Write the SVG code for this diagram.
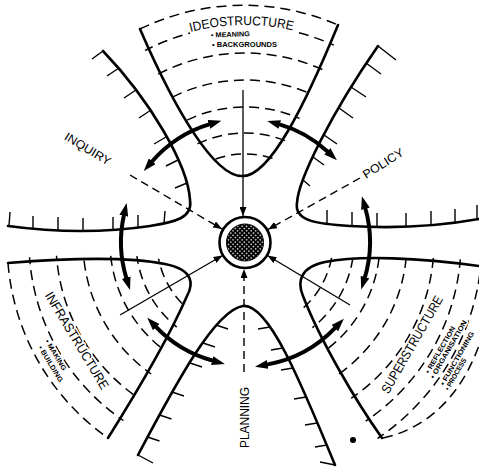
<svg xmlns="http://www.w3.org/2000/svg" width="479" height="468" viewBox="0 0 479 468">
<style>
.c{fill:none;stroke:#000;stroke-width:2.6;stroke-linecap:round;stroke-linejoin:round}
.t{fill:none;stroke:#000;stroke-width:1.4}
.d{fill:none;stroke:#000;stroke-width:1.5;stroke-dasharray:10 6}
.rl{fill:none;stroke:#000;stroke-width:1.3}
.rd{fill:none;stroke:#000;stroke-width:1.4;stroke-dasharray:8 5}
.ta{fill:none;stroke:#000;stroke-width:4}
.lbl{font-family:"Liberation Sans",Arial,Helvetica,sans-serif;fill:#000}
.big{font-size:13px}
.sm{font-size:7px;font-weight:bold}
.halo{paint-order:stroke;stroke:#fff;stroke-width:3px;stroke-linejoin:round}
</style>
<defs>
<marker id="ah" viewBox="0 0 9 7" refX="9" refY="3.5" markerWidth="9" markerHeight="7" markerUnits="userSpaceOnUse" orient="auto"><path d="M0,0L9,3.5L0,7z"/></marker>
<marker id="bh" viewBox="0 0 13 9" refX="1" refY="4.5" markerWidth="13" markerHeight="9" markerUnits="userSpaceOnUse" orient="auto-start-reverse"><path d="M0,0L13,4.5L0,9z"/></marker>
<pattern id="ht" width="3.2" height="3.2" patternUnits="userSpaceOnUse" patternTransform="rotate(45)"><rect width="3.2" height="3.2" fill="#000"/><circle cx="1.6" cy="1.6" r="0.75" fill="#fff"/></pattern>
<mask id="mI" maskUnits="userSpaceOnUse" x="0" y="0" width="479" height="468"><path d="M140,29 C175,110 215,178 243,176 C270,176 305,105 338,25 A237,237 0 0 0 140,29 Z" fill="#fff" stroke="#fff" stroke-width="8"/></mask>
<mask id="mF" maskUnits="userSpaceOnUse" x="0" y="0" width="479" height="468"><path d="M8,263 C70,258 130,257 165,264 C195,270 193,285 187,296 C170,335 135,395 108,438 A237,237 0 0 1 8,263 Z" fill="#fff" stroke="#fff" stroke-width="8"/></mask>
<mask id="mS" maskUnits="userSpaceOnUse" x="0" y="0" width="479" height="468"><path d="M490,267 C420,258 360,255 325,262 C300,267 297,282 303,296 C320,340 355,400 382,438 C430,428 478,388 492,292 Z" fill="#fff" stroke="#fff" stroke-width="8"/></mask>
<path id="ideoArc" d="M91.6,88.6 A217,217 0 0 1 398.4,88.6"/>
</defs>
<rect width="479" height="468" fill="#fff"/>

<g id="ideostructure">
<g mask="url(#mI)">
<circle class="d" cx="245" cy="242" r="216"/><circle class="d" cx="245" cy="242" r="189"/><circle class="d" cx="245" cy="242" r="162"/><circle class="d" cx="245" cy="242" r="135"/><circle class="d" cx="245" cy="242" r="109"/><circle class="d" cx="245" cy="242" r="88"/>
</g>
<path class="d" d="M140,29 A237,237 0 0 1 338,25"/>
<path class="c" d="M140,29 C175,110 215,178 243,176 C270,176 305,105 338,25"/>
<rect x="190" y="12.5" width="108" height="38" fill="#fff"/>
<text class="lbl big"><textPath href="#ideoArc" startOffset="49%" text-anchor="middle" textLength="103" lengthAdjust="spacingAndGlyphs">IDEOSTRUCTURE</textPath></text>
<text class="lbl sm" x="211" y="37.5" textLength="39" lengthAdjust="spacingAndGlyphs" transform="rotate(-2 211 37.5)">• MEANING</text>
<text class="lbl sm" x="212" y="47" textLength="65" lengthAdjust="spacingAndGlyphs">• BACKGROUNDS</text>
</g>

<g id="policy">
<path class="c" d="M378,46 C332,112 298,180 297,203 C294,222 320,224 350,226 C400,229 440,226 479,219"/>
<path class="t" d="M378,46L396,60 M366,63L381,74 M351,87L366,97 M339,108L353,118 M324,135L337,144 M313,157L324,165 M303,180L310,186 M327,224L327,210 M352,226L352,212 M377,227L377,213 M406,227L406,213 M431,225L431,211 M455,223L455,209 M477,219L477,205"/>
<text class="lbl big" transform="translate(383,163) rotate(-32)" x="0" y="4.5" text-anchor="middle" textLength="46" lengthAdjust="spacingAndGlyphs" style="font-size:12px">POLICY</text>
</g>

<g id="superstructure">
<g mask="url(#mS)">
<circle class="d" cx="245" cy="242" r="237"/><circle class="d" cx="245" cy="242" r="216"/><circle class="d" cx="245" cy="242" r="189"/><circle class="d" cx="245" cy="242" r="162"/><circle class="d" cx="245" cy="242" r="135"/><circle class="d" cx="245" cy="242" r="109"/><circle class="d" cx="245" cy="242" r="88"/>
</g>
<path class="d" d="M383,438 C430,428 478,388 492,292"/>
<path class="c" d="M479,266 C420,258 360,255 325,262 C300,267 297,282 303,296 C320,340 355,400 382,438"/>
<g transform="translate(412,344.5) rotate(-60)">
<text class="lbl big halo" x="0" y="4.5" text-anchor="middle" textLength="110" lengthAdjust="spacingAndGlyphs">SUPERSTRUCTURE</text>
<text class="lbl sm halo" x="-17" y="29.5" textLength="53" lengthAdjust="spacingAndGlyphs">• REFLECTION</text>
<text class="lbl sm halo" x="-19" y="36.5" textLength="66" lengthAdjust="spacingAndGlyphs">• ORGANISATION</text>
<text class="lbl sm halo" x="-20" y="48.5" textLength="61" lengthAdjust="spacingAndGlyphs">• FUNCTIONING</text>
<text class="lbl sm halo" x="-22" y="55" textLength="36" lengthAdjust="spacingAndGlyphs">• PROCESS</text>
</g>
</g>

<g id="planning">
<path class="c" d="M138,455 C175,385 215,310 243,306 C268,303 300,380 335,465"/>
<path class="t" d="M138,455L153,463 M216,325L228,329 M203,343L215,347 M190,363L202,367 M172,392L184,396 M159.5,415L171.5,419 M147.5,437L159.5,441 M335,465L320,462 M270,327L258,329 M283,348L271,350 M293,368L281,370 M306,397L294,399 M317,423L305,425 M327,445L315,447"/>
<text class="lbl big" transform="translate(244,417.5) rotate(-90)" x="0" y="4.5" text-anchor="middle" textLength="61" lengthAdjust="spacingAndGlyphs" style="font-size:12.5px">PLANNING</text>
<circle cx="353" cy="440" r="3" fill="#000"/>
</g>

<g id="infrastructure">
<g mask="url(#mF)">
<circle class="d" cx="245" cy="242" r="216"/><circle class="d" cx="245" cy="242" r="189"/><circle class="d" cx="245" cy="242" r="162"/><circle class="d" cx="245" cy="242" r="135"/><circle class="d" cx="245" cy="242" r="109"/><circle class="d" cx="245" cy="242" r="88"/>
</g>
<path class="d" d="M8,263 A237,237 0 0 0 108,438"/>
<path class="c" d="M8,263 C70,258 130,257 165,264 C195,270 193,285 187,296 C170,335 135,395 108,438"/>
<g transform="translate(77,340.5) rotate(59)">
<text class="lbl big halo" x="0" y="4.5" text-anchor="middle" textLength="111" lengthAdjust="spacingAndGlyphs">INFRASTRUCTURE</text>
<text class="lbl sm halo" x="-16" y="28" textLength="35" lengthAdjust="spacingAndGlyphs">• MAKING</text>
<text class="lbl sm halo" x="-14" y="37" textLength="41" lengthAdjust="spacingAndGlyphs">• BUILDING</text>
</g>
</g>

<g id="inquiry">
<path class="c" d="M103,51 C150,100 188,165 190,200 C193,218 175,222 150,226 C110,232 60,233 8,226"/>
<path class="t" d="M103,51L92,59 M119,68L107,76 M136,90L124,98 M151,110L139,118 M166,137L154,144 M178,160L166,166 M187,183L175,188 M9,226L10,212 M33,229L33,216 M58,230.5L58,217 M83,231L83,218 M113,230L113,217 M138,228L138,215 M164,223.5L165,211"/>
<text class="lbl big" transform="translate(88,148.5) rotate(31)" x="0" y="4.5" text-anchor="middle" textLength="52" lengthAdjust="spacingAndGlyphs" style="font-size:12px">INQUIRY</text>
</g>

<g id="core">
<circle cx="245" cy="242.5" r="25.5" fill="#fff" stroke="#000" stroke-width="2.6"/>
<circle cx="245" cy="242.5" r="18.5" fill="url(#ht)" stroke="#000" stroke-width="1"/>
</g>

<g id="connectors">
<path class="rl" d="M243,90 L243,216" marker-end="url(#ah)"/>
<path class="rd" d="M130,175 L222,229" marker-end="url(#ah)"/>
<path class="rd" d="M360,178 L268,229.5" marker-end="url(#ah)"/>
<path class="rl" d="M120,315 L222.5,255.5" marker-end="url(#ah)"/>
<path class="rl" d="M350,305 L267.5,255.5" marker-end="url(#ah)"/>
<path class="rd" d="M244,372 L244,269" marker-end="url(#ah)"/>
<path class="ta" d="M151.6,162 A123,123 0 0 1 209.9,124.1" marker-start="url(#bh)" marker-end="url(#bh)"/>
<path class="ta" d="M278.8,124.2 A122.5,122.5 0 0 1 328.1,152" marker-start="url(#bh)" marker-end="url(#bh)"/>
<path class="ta" d="M126.5,278.5 A124,124 0 0 1 124,214.7" marker-start="url(#bh)" marker-end="url(#bh)"/>
<path class="ta" d="M365.2,207.8 A125,125 0 0 1 364.7,278.1" marker-start="url(#bh)" marker-end="url(#bh)"/>
<path class="ta" d="M213.2,360.8 A123,123 0 0 1 155.5,326.4" marker-start="url(#bh)" marker-end="url(#bh)"/>
<path class="ta" d="M335.6,327.4 A124.5,124.5 0 0 1 266.8,364.6" marker-start="url(#bh)" marker-end="url(#bh)"/>
</g>
</svg>
